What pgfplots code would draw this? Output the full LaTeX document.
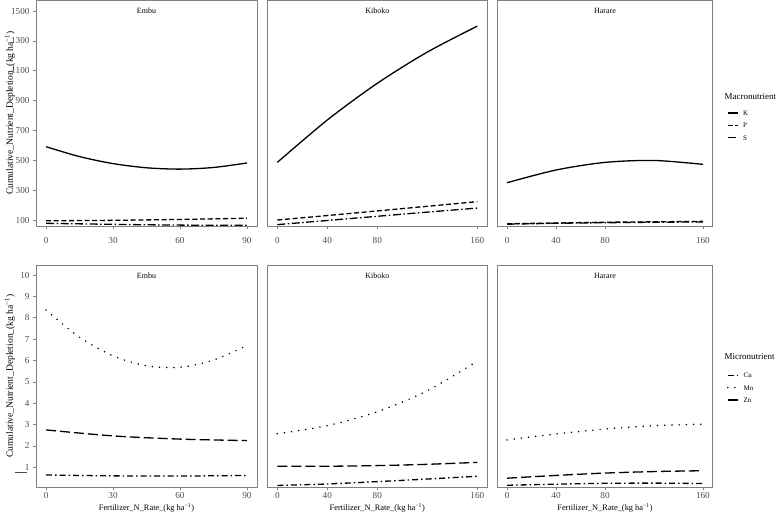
\documentclass[border=0pt]{standalone}
\usepackage{fontspec}
\setmainfont{Liberation Serif}
\usepackage{pgfplots}
\pgfplotsset{compat=1.18}
\definecolor{framegray}{HTML}{808080}
\definecolor{labgray}{HTML}{4D4D4D}
\pgfplotsset{
 panel/.style={
  scale only axis,
  anchor=south west,
  axis line style={draw=framegray, line width=0.9bp},
  tick style={draw=framegray, line width=0.6bp},
  major tick length=3bp,
  tick align=outside,
  xtick pos=bottom, ytick pos=left,
  every tick label/.append style={font=\fontsize{9.2}{10}\selectfont, text=labgray},
  /pgf/number format/assume math mode=true,
  /pgf/number format/1000 sep={},
  every axis plot/.append style={line width=1.3bp, black, mark=none},
  legend image code/.code={\draw[##1] (0bp,0bp) -- (10.5bp,0bp);},
  legend cell align=left,
 },
 toprow/.style={panel, height=226bp, ymin=60, ymax=1574, ytick={100,300,...,1500},
   xticklabel style={yshift=-4.5bp}},
 botrow/.style={panel, height=222.3bp, ymin=0.064, ymax=10.47, ytick={1,2,...,10},
   xticklabel style={yshift=-0.5bp, inner sep=1bp},
   xlabel={Fertilizer\_N\_Rate\_(kg ha\textsuperscript{−1})},
   xlabel style={font=\fontsize{8.4}{9}\selectfont, inner sep=0.5bp, at={(axis description cs:0.5,-0.094)}, anchor=center}},
 embu/.style={width=221bp, xmin=-4.5, xmax=94.5, xtick={0,30,60,90}},
 kiboko/.style={width=220bp, xmin=-8, xmax=168, xtick={0,40,80,160}},
 harare/.style={width=215.4bp, xmin=-8, xmax=168, xtick={0,40,80,160}},
 ylab/.style={ylabel style={font=\fontsize{9.6}{10}\selectfont, at={(axis description cs:-0.118,0.5)}, anchor=center}},
 lineK/.style={solid},
 lineP/.style={dash pattern=on 5bp off 2.7bp},
 lineS/.style={dash pattern=on 8bp off 2.5bp on 1.5bp off 2.5bp},
 lineCu/.style={dash pattern=on 6bp off 3bp on 1.5bp off 3bp},
 lineMn/.style={line cap=round, dash pattern=on 0bp off 7.2bp, line width=1.7bp},
 lineZn/.style={dash pattern=on 10bp off 4bp},
 leg/.style={legend style={draw=none, fill=none, inner sep=0pt, font=\fontsize{7}{8}\selectfont,
   nodes={inner sep=0pt, text height=5bp, text depth=0bp}, row sep=7.3bp,
   /tikz/every odd column/.append style={column sep=4.5bp},
   at={(rel axis cs:#1)}, anchor=north west}},
}
\newcommand{\strip}[1]{\node[font=\fontsize{8}{9}\selectfont] at (rel axis cs:0.5,1) [yshift=-11bp] {#1};}
\begin{document}
\begin{tikzpicture}
\useasboundingbox (0bp,0bp) rectangle (776bp,520bp);
% ---------------- top row: macronutrients ----------------
\begin{axis}[toprow, embu, ylab, at={(36bp,294bp)},
  ylabel={Cumulative\_Nutrient\_Depletion\_(kg ha\textsuperscript{−1})}]
\addplot[lineK, smooth] coordinates {(0,591)(15,525)(30,478)(45,450)(60,441)(75,452)(90,482)};
\addplot[lineP, smooth] coordinates {(0,95)(30,98)(60,104)(90,112)};
\addplot[lineS, smooth] coordinates {(0,78)(30,71)(60,66)(90,65)};
\strip{Embu}
\end{axis}
\begin{axis}[toprow, kiboko, ytick=\empty, at={(267.3bp,294bp)}]
\addplot[lineK, smooth] coordinates {(0,486)(40,770)(80,1016)(120,1225)(160,1399)};
\addplot[lineP, smooth] coordinates {(0,100)(40,130)(80,161)(120,192)(160,223)};
\addplot[lineS, smooth] coordinates {(0,69)(40,97)(80,125)(120,153)(160,180)};
\strip{Kiboko}
\end{axis}
\begin{axis}[toprow, harare, ytick=\empty, at={(497.3bp,294bp)}, leg={1.065,0.512}]
\addplot[lineK, smooth] coordinates {(0,350)(40,435)(80,486)(120,499)(160,473)};
\addlegendentry{K}
\addplot[lineP, smooth] coordinates {(0,75)(40,80)(80,85)(120,88)(160,91)};
\addlegendentry{P}
\addplot[lineS, smooth] coordinates {(0,72)(40,78)(80,82)(120,85)(160,87)};
\addlegendentry{S}
\strip{Harare}
\end{axis}
% ---------------- bottom row: micronutrients ----------------
\begin{axis}[botrow, embu, ylab, at={(36bp,32.7bp)},
  ylabel={Cumulative\_Nutrient\_Depletion\_(kg ha\textsuperscript{−1})}]
\addplot[lineCu, smooth] coordinates {(0,0.64)(30,0.60)(60,0.59)(90,0.62)};
\addplot[lineMn, smooth] coordinates {(0,8.36)(15,7.09)(30,6.22)(45,5.75)(60,5.68)(75,6.02)(90,6.70)};
\addplot[lineZn, smooth] coordinates {(0,2.75)(30,2.47)(60,2.32)(90,2.25)};
\strip{Embu}
\end{axis}
\begin{axis}[botrow, kiboko, ytick=\empty, at={(267.3bp,32.7bp)}]
\addplot[lineCu, smooth] coordinates {(0,0.15)(40,0.22)(80,0.33)(120,0.45)(160,0.58)};
\addplot[lineMn, smooth] coordinates {(0,2.57)(40,2.95)(80,3.60)(120,4.58)(160,5.97)};
\addplot[lineZn, smooth] coordinates {(0,1.05)(40,1.05)(80,1.08)(120,1.14)(160,1.23)};
\strip{Kiboko}
\end{axis}
\begin{axis}[botrow, harare, ytick=\empty, at={(497.3bp,32.7bp)}, leg={1.065,0.516}]
\addplot[lineCu, smooth] coordinates {(0,0.16)(40,0.21)(80,0.25)(120,0.26)(160,0.24)};
\addlegendentry{Cu}
\addplot[lineMn, smooth] coordinates {(0,2.28)(40,2.56)(80,2.79)(120,2.95)(160,3.02)};
\addlegendentry{Mn}
\addplot[lineZn, smooth] coordinates {(0,0.49)(40,0.62)(80,0.73)(120,0.80)(160,0.84)};
\addlegendentry{Zn}
\strip{Harare}
\end{axis}
% legend titles and stray mark
\node[anchor=west, font=\fontsize{9}{10}\selectfont, inner sep=0pt] at (724.5bp,423bp) {Macronutrient};
\node[anchor=west, font=\fontsize{9}{10}\selectfont, inner sep=0pt] at (724.5bp,163.3bp) {Micronutrient};
\draw[labgray, line width=0.6bp] (15bp,47.5bp) -- (26.5bp,47.5bp);
\end{tikzpicture}
\end{document}
